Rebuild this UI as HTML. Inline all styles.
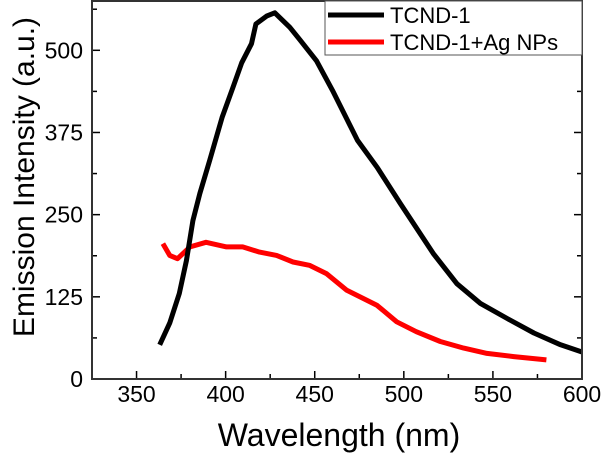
<!DOCTYPE html>
<html><head><meta charset="utf-8"><style>
body{margin:0;background:#fff}
svg{display:block;font-family:"Liberation Sans",Arial,sans-serif}
</style></head><body>
<svg id="chart" width="605" height="455" viewBox="0 0 605 455"></svg>
<script>
const xTicks=[350,400,450,500,550,600];
const yTicks=[0,125,250,375,500];
const blackX=[363,368.6,374,378,381.6,385.5,391,398,404,409,414.5,417,423,427.6,436,441.7,451,460,474,485,498,516.5,529.8,543,558,573,588,600];
const blackY=[52,85,130,180,241,282,332,398,443,481,510,540,552,557,535,516,484,439,363,322,267,191,145,115,92,70,52,41];
const redX=[364.8,368.6,373,380,389,400.5,409.6,419,428.6,437.8,447,456.7,468,485,496,507,520.5,533.6,546.7,561.7,580];
const redY=[206,188,183,201,208,201,201,193,188,178,173,160,135,112,87,72,57,47,39,34,29];
const L=92,R=582,T=1,B=379;
const xMin=325,xMax=600,yMin=0,yMax=575;
const sx=v=>L+(v-xMin)/(xMax-xMin)*(R-L);
const sy=v=>B-(v-yMin)/(yMax-yMin)*(B-T);
const svg=document.getElementById('chart');
const NS='http://www.w3.org/2000/svg';
function el(t,a,txt){const e=document.createElementNS(NS,t);for(const k in a)e.setAttribute(k,a[k]);if(txt!==undefined)e.textContent=txt;svg.appendChild(e);return e;}
for(let v=325;v<=600;v+=25){const x=sx(v);const major=v%50===0;
const t=el('line',{x1:x,x2:x,y1:B,y2:B-(major?8:5),stroke:'#000','stroke-width':1.5});

}
for(let v=0;v<=575;v+=62.5){const y=sy(v);const major=(v%125===0);
const t=el('line',{x1:L,x2:L+(major?8:5),y1:y,y2:y,stroke:'#000','stroke-width':1.5});


const t2=el('line',{x1:R,x2:R-(major?8:5),y1:y,y2:y,stroke:'#000','stroke-width':1.5});

}
xTicks.forEach(v=>{const t=el('text',{x:sx(v),y:402,'font-size':23,'text-anchor':'middle'},String(v));

});
yTicks.forEach(v=>{const t=el('text',{x:L-9,y:sy(v)+8,'font-size':23,'text-anchor':'end'},String(v));

});
function series(xs,ys,c,name){const p=xs.map((x,i)=>(i?'L':'M')+sx(x).toFixed(1)+','+sy(ys[i]).toFixed(1)).join('');
const e=el('path',{d:p,fill:'none',stroke:c,'stroke-width':5,'stroke-linejoin':'round'});

}
series(redX,redY,'#f00','series-tcnd1-ag');
series(blackX,blackY,'#000','series-tcnd1');
const ax=el('rect',{x:L,y:T,width:R-L,height:B-T,fill:'none',stroke:'#333','stroke-width':2});


const lg=el('rect',{x:325,y:1,width:257,height:54,fill:'#fff',stroke:'#555','stroke-width':1});


[['#000','TCND-1',15],['#f00','TCND-1+Ag NPs',42]].forEach(([c,t,y])=>{
const l=el('line',{x1:328,x2:384,y1:y,y2:y,stroke:c,'stroke-width':5});


const tx=el('text',{x:390,y:y+8,'font-size':22},t);

});
const xl=el('text',{x:339,y:446,'font-size':32,'text-anchor':'middle'},'Wavelength (nm)');


const yl=el('text',{x:0,y:0,'font-size':30,'text-anchor':'middle',transform:'translate(34,177) rotate(-90)'},'Emission Intensity (a.u.)');


</script>
</body></html>
